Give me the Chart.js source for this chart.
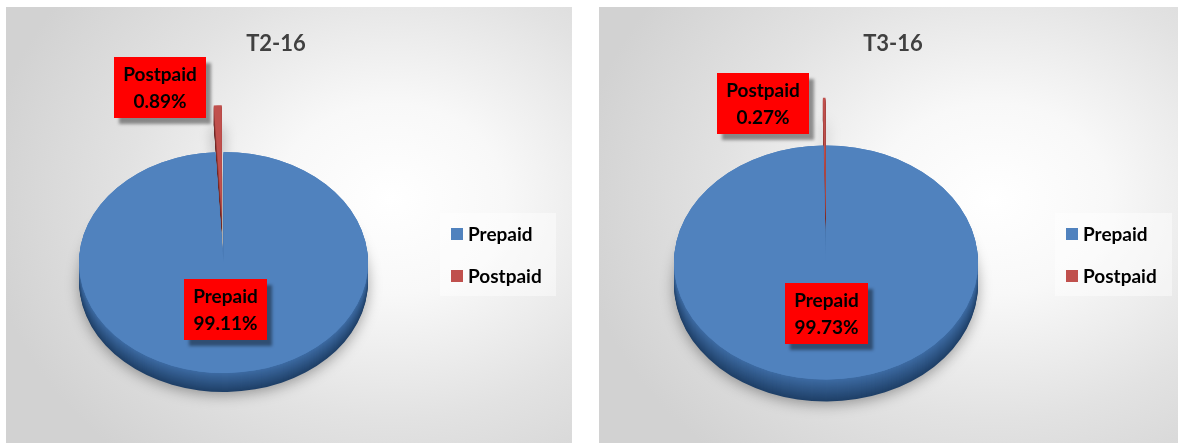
<!DOCTYPE html>
<html>
<head>
<meta charset="utf-8">
<script src="https://cdn.jsdelivr.net/npm/chart.js@4.4.1/dist/chart.umd.min.js"></script>
<style>
  body { margin: 0; background: #fff; width: 1181px; height: 443px; overflow: hidden; }
  .panel {
    position: absolute; top: 7px; height: 436px;
    background: radial-gradient(ellipse 72% 78% at 68% 44%, #ffffff 0%, #f8f8f8 28%, #e2e2e2 65%, #d2d2d2 100%);
  }
  #p1 { left: 6px; width: 566px; }
  #p2 { left: 599px; width: 579px; }
</style>
</head>
<body>
<div class="panel" id="p1"><canvas id="t2" width="566" height="436"></canvas></div>
<div class="panel" id="p2"><canvas id="t3" width="579" height="436"></canvas></div>
<script>
const labels = ['Prepaid', 'Postpaid'];
const valuesT2 = [99.11, 0.89];
const valuesT3 = [99.73, 0.27];
const colors = ['#5082be', '#c0504d'];
const sideTop = ['#3e6ca4', '#9c3f3c'];
const sideBottom = ['#1f4068', '#5e2120'];

function mix(a, b, t) {
  const pa = [1, 3, 5].map(i => parseInt(a.substr(i, 2), 16));
  const pb = [1, 3, 5].map(i => parseInt(b.substr(i, 2), 16));
  return 'rgb(' + pa.map((v, k) => Math.round(v + (pb[k] - v) * t)).join(',') + ')';
}

// squash the pie into an ellipse and stack darker copies under it for the side
const pie3d = {
  id: 'pie3d',
  afterUpdate(chart, args, o) {
    // pull the small slice out along its middle angle
    const arc = chart.getDatasetMeta(0).data[1];
    const mid = (arc.startAngle + arc.endAngle) / 2;
    arc.x += Math.cos(mid) * o.lift;
    arc.y += Math.sin(mid) * o.lift;
  },
  beforeDatasetsDraw(chart, args, o) {
    const arcs = chart.getDatasetMeta(0).data;
    const ctx = chart.ctx;
    const cx = arcs[0].x, cy = arcs[0].y;
    ctx.save();
    ctx.translate(cx, cy);
    ctx.scale(1, o.tilt);
    ctx.translate(-cx, -cy);
    for (let d = o.depth; d > 0; d--) {
      ctx.save();
      ctx.translate(0, d / o.tilt);
      if (d === o.depth) {
        ctx.shadowColor = 'rgba(0,0,0,0.35)';
        ctx.shadowBlur = 14;
        ctx.shadowOffsetY = 3;
      }
      arcs.forEach((arc, i) => {
        const side = Object.create(arc);
        side.options = Object.assign({}, arc.options, {
          backgroundColor: mix(sideTop[i], sideBottom[i], d / o.depth),
          borderWidth: 0
        });
        side.draw(ctx);
      });
      ctx.restore();
    }
  },
  afterDatasetsDraw(chart) {
    const arcs = chart.getDatasetMeta(0).data;
    arcs[0].draw(chart.ctx); // big slice face covers the lifted sliver
    chart.ctx.restore();
  }
};

const boxLabels = {
  id: 'boxLabels',
  afterDatasetsDraw(chart, args, o) {
    const meta = chart.getDatasetMeta(0);
    const cx = meta.data[0].x, cy = meta.data[0].y;
    const vals = chart.data.datasets[0].data;
    const ctx = chart.ctx;
    ctx.save();
    ctx.font = 'bold 19px Lato';
    ctx.textAlign = 'center';
    ctx.textBaseline = 'middle';
    vals.forEach((v, i) => {
      const lines = [chart.data.labels[i], v.toFixed(2) + '%'];
      const w = Math.round(Math.max(...lines.map(t => ctx.measureText(t).width)) + 18);
      const h = 61;
      const x = Math.round(cx + o.pos[i][0] - w / 2);
      const y = Math.round(cy + o.pos[i][1] - h / 2);
      ctx.save();
      ctx.shadowColor = 'rgba(0,0,0,0.4)';
      ctx.shadowOffsetX = 5;
      ctx.shadowOffsetY = 6;
      ctx.shadowBlur = 3;
      ctx.fillStyle = '#ff0000';
      ctx.fillRect(x, y, w, h);
      ctx.restore();
      ctx.fillStyle = '#000';
      ctx.fillText(lines[0], x + w / 2, y + h / 2 - 13);
      ctx.fillText(lines[1], x + w / 2, y + h / 2 + 14);
    });
    ctx.restore();
  }
};

const frame = {
  id: 'frame',
  afterDraw(chart, args, o) {
    const ctx = chart.ctx;
    ctx.save();
    ctx.font = 'bold 22px Lato';
    ctx.fillStyle = '#404040';
    ctx.textAlign = 'center';
    ctx.textBaseline = 'middle';
    ctx.fillText(o.title, o.titleX, 37);
    ctx.fillStyle = 'rgba(255,255,255,0.45)';
    ctx.fillRect(o.legendX, 206, o.legendW, 83);
    ctx.font = 'bold 19px Lato';
    ctx.textAlign = 'left';
    chart.data.labels.forEach((lab, i) => {
      const y = 227 + i * 42;
      ctx.fillStyle = colors[i];
      ctx.fillRect(o.legendX + 11, y - 6, 12, 12);
      ctx.fillStyle = '#000';
      ctx.fillText(lab, o.legendX + 28, y + 1);
    });
    ctx.restore();
  }
};

function makePie(id, title, values, L) {
  const canvas = document.getElementById(id);
  return new Chart(canvas.getContext('2d'), {
    type: 'pie',
    data: {
      labels: labels,
      datasets: [{
        data: values,
        backgroundColor: colors,
        borderWidth: 0
      }]
    },
    options: {
      responsive: false,
      animation: false,
      radius: L.radius,
      layout: { padding: { left: 0, top: 2 * L.cy - canvas.height, right: canvas.width - 2 * L.cx, bottom: 0 } },
      plugins: {
        legend: { display: false },
        tooltip: { enabled: false },
        pie3d: { tilt: L.tilt, depth: L.depth, lift: L.lift },
        boxLabels: { pos: L.labelPos },
        frame: { title: title, titleX: L.titleX, legendX: L.legendX, legendW: L.legendW }
      }
    },
    plugins: [pie3d, boxLabels, frame]
  });
}

makePie('t2', 'T2-16', valuesT2, {
  cx: 217.5, cy: 255.5, radius: 144.5, tilt: 0.765, depth: 19, lift: 61,
  labelPos: [[1.5, 47], [-63.5, -175]],
  titleX: 270, legendX: 434, legendW: 116
});
makePie('t3', 'T3-16', valuesT3, {
  cx: 227, cy: 255.5, radius: 152, tilt: 0.77, depth: 22, lift: 62,
  labelPos: [[0.5, 50.5], [-63, -159.5]],
  titleX: 294, legendX: 456, legendW: 117
});
</script>
</body>
</html>
